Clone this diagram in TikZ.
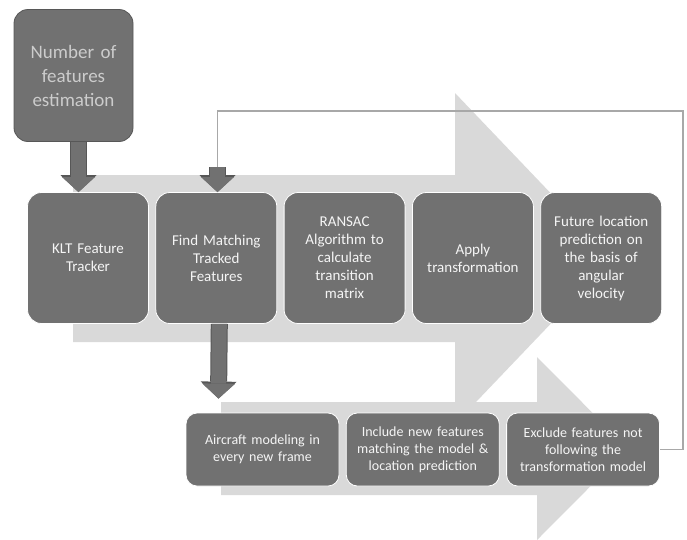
\documentclass[tikz,border=0pt]{standalone}
\usepackage{fontspec}
\setmainfont{Carlito}
\usetikzlibrary{arrows.meta,positioning,calc}
\definecolor{boxgray}{HTML}{717171}
\definecolor{bandgray}{HTML}{D9D9D9}
\definecolor{edgegray}{HTML}{575757}
\definecolor{loopgray}{HTML}{A8A8A8}

\begin{document}
\begin{tikzpicture}[
  x=1pt, y=-1pt,
  node distance=6.5pt,
  stage/.style={draw=white, line width=0.8pt, fill=boxgray, rounded corners=14pt, text=black!4, align=center, minimum width=121pt, minimum height=131pt, text width=110pt, inner sep=0pt, font=\fontsize{15}{18}\selectfont},
  substage/.style={stage, minimum width=153pt, minimum height=73pt, text width=146pt, rounded corners=11pt, font=\fontsize{14}{17}\selectfont},
  topbox/.style={stage, draw=edgegray, minimum width=119pt, minimum height=132pt, text=black!20, font=\fontsize{19}{24}\selectfont},
  band/.style={fill=bandgray},
  blockarr/.style={line width=15pt, boxgray, -{Triangle[length=15pt, width=33pt, line width=0pt]}, preaction={draw=edgegray, line width=17pt, -{Triangle[length=17pt, width=36pt, line width=0pt]}}},
  loopline/.style={draw=loopgray, line width=1.3pt}
]
\useasboundingbox (0,0) rectangle (687,539);

% background arrows
\fill[band] (73,175) -- (455,175) -- (455,93) -- (613,258.5) -- (455,424) -- (455,342) -- (73,342) -- cycle;
\fill[band] (221,402) -- (537,402) -- (537,357) -- (628,448.5) -- (537,540) -- (537,495) -- (221,495) -- cycle;

\node[topbox] (est) at (73.5,75.5) {Number of\\features\\estimation};

% first row
\node[stage] (klt) at (88,258) {KLT Feature\\Tracker};
\node[stage, right=of klt] (find) {Find Matching\\Tracked\\Features};
\node[stage, right=of find] (ransac) {RANSAC\\Algorithm to\\calculate\\transition\\matrix};
\node[stage, right=of ransac] (apply) {Apply\\transformation};
\node[stage, right=of apply] (future) {Future location\\prediction on\\the basis of\\angular\\velocity};

% second row
\node[substage] (aircraft) at (262.5,449.5) {Aircraft modeling in\\every new frame};
\node[substage, right=of aircraft] (include) {Include new features\\matching the model \&\\location prediction};
\node[substage, right=of include] (exclude) {Exclude features not\\following the\\transformation model};

% feedback loop
\coordinate (loopcorner) at (683,111);
\coordinate (looptop) at (217.5,111);
\coordinate (loopdrop) at (217.5,167);
\draw[loopline] (exclude.east) -| (loopcorner) -- (looptop) -- (loopdrop);

\draw[blockarr] ($(est.south)+(5,0)$) -- ($(klt.north)+(-9.5,0)$);
\draw[blockarr] (loopdrop) -- (loopdrop |- find.north);
\draw[blockarr] ($(find.south)+(3,0)$) -- ($(aircraft.north)+(-44,-14)$);
\end{tikzpicture}
\end{document}
